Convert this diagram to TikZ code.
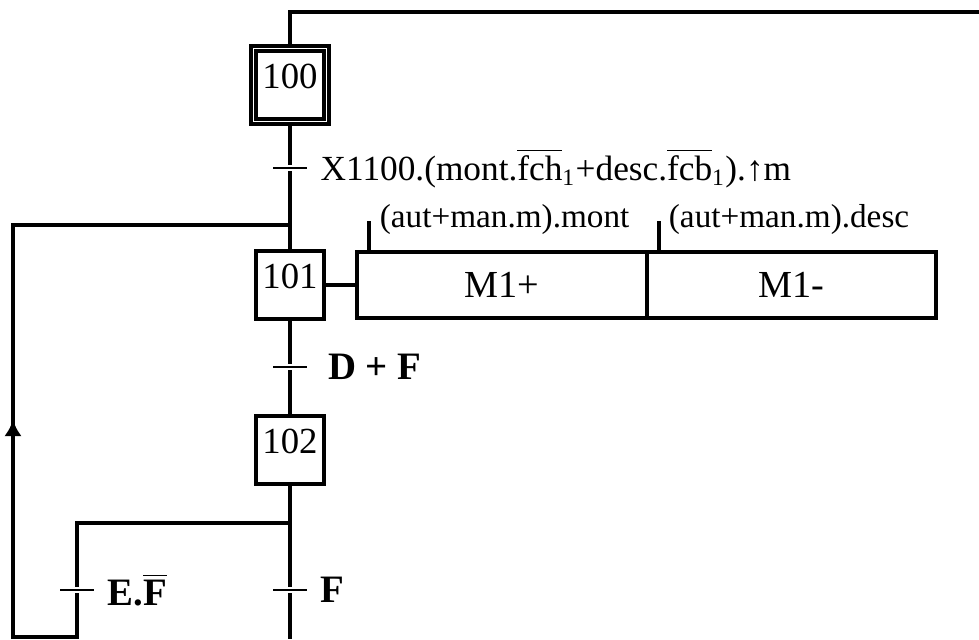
\documentclass[tikz,border=0pt]{standalone}
\usepackage{amsmath}
\usepackage{fontspec}
\setmainfont{Liberation Serif}
\usetikzlibrary{positioning, arrows.meta}

\begin{document}
\begin{tikzpicture}[x = 0.34pt, y = -0.34pt, line width = 1.3pt,
								font = \fontsize{12pt}{14pt}\selectfont,
								stepbox/.style = {rectangle, draw, fill = 
								white, minimum size = 23pt, inner sep = 0pt, text depth = 6pt,
								font = \fontsize{12.5pt}{14pt}\selectfont},
								init/.style = {stepbox, double, double distance = 
								0.4pt, minimum size = 25pt},
								act/.style = {rectangle, draw, minimum width = 
								98.4pt, minimum height = 22.4pt, inner sep = 0pt, outer sep = 0pt,
								font = \fontsize{13pt}{15pt}\selectfont},
								trans/.style = {rectangle, fill = black, minimum width = 
								11.6pt, minimum height = 1pt, inner sep = 0pt},
								cond/.style = {anchor = base west, inner sep = 0pt,
								font = \fontsize{11.3pt}{13pt}\selectfont},
								rec/.style = {font = \fontsize{13.2pt}{15pt}\selectfont\bfseries},
								]
				\useasboundingbox (0,0) rectangle (979,639);

				\node [init] (s_100) at (290,85) {100};
				\node [trans] (t_1) at (290,168) {};
				\node [right = 0pt of t_1] (l_1)
				{X1100.(mont.$\overline{\text{fch}}$\textsubscript{1}+desc.$\overline{\text{fcb}}$\textsubscript{1}).↑m};
				\node [stepbox] (s_101) at (290,285) {101};
				\node [act] (a_1) at (502,285) {M1+};
				\node [act, right = 0pt of a_1] (a_2) {M1-};
				\node [cond] (c_1) at (378,227) {(aut+man.m).mont};
				\node [cond] (c_2) at (667,227) {(aut+man.m).desc};
				\node [trans] (t_2) at (290,367) {};
				\node [rec, right = 2.5pt of t_2] (l_2) {D + F};
				\node [stepbox] (s_102) at (290,450) {102};
				\node [trans] (t_3) at (290,590) {};
				\node [rec, right = 0pt of t_3] (l_3) {F};
				\node [trans] (t_4) at (77,590) {};
				\node [rec, right = 0pt of t_4] (l_4) {E.$\overline{\text{F}}$};

				\coordinate (top_l) at (290,12);
				\coordinate (top_r) at (979,12);
				\coordinate (j_1) at (290,225);
				\coordinate (lp_t) at (13,225);
				\coordinate (lp_a) at (13,420);
				\coordinate (lp_b) at (13,637);
				\coordinate (br_b) at (77,637);
				\coordinate (br_t) at (77,523);
				\coordinate (div) at (290,523);
				\coordinate (bot) at (290,639);
				\coordinate (k_1) at (369,221);
				\coordinate (k_2) at (659,221);

				\draw (top_r) -- (top_l) -- (s_100);
				\draw (s_100) -- (t_1) -- (s_101);
				\draw (s_101) -- (a_1);
				\draw (s_101) -- (t_2) -- (s_102);
				\draw (s_102) -- (t_3) -- (bot);
				\draw (div) -- (br_t) -- (t_4) -- (br_b) -- (lp_b) -- (lp_t) -- (j_1);
				\draw [-{Latex[length = 5.5pt, width = 6pt]}] (lp_b) -- (lp_a);
				\draw (k_1) -- (k_1 |- a_1.north);
				\draw (k_2) -- (k_2 |- a_2.north);
			\end{tikzpicture}
\end{document}
